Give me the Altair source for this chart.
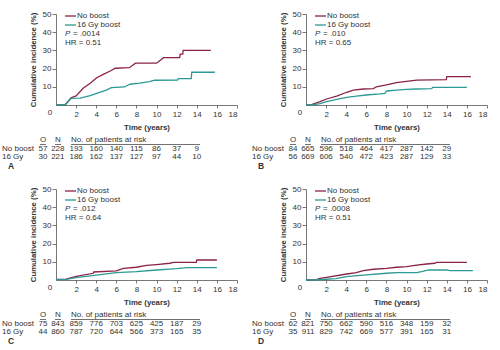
import altair as alt
import pandas as pd

FONT = "Liberation Sans"
RED = "#8B2346"
TEAL = "#2C9A94"
TXT = "#333333"
AXC = "#555555"

TIME_TICKS = [2, 4, 6, 8, 10, 12, 14, 16, 18]
Y_TICKS = [10, 20, 30, 40, 50]
RISK_TIMES = [2, 4, 6, 8, 10, 12, 14]
GROUPS = ["No boost", "16 Gy boost"]
ROW_LABELS = ["No boost", "16 Gy"]

# ---- Panel A ----
A_nb_t = [0, 0.9, 1.5, 2.0, 2.7, 3.4, 4.05, 4.7, 5.4, 5.9, 7.3, 7.9, 10.0, 10.7, 12.3, 12.35, 12.6, 12.65, 15.4]
A_nb_v = [0, 0, 4.0, 5.0, 9.2, 11.9, 15.0, 16.8, 18.7, 20.2, 20.5, 23.0, 23.0, 26.0, 26.0, 28.0, 28.0, 30.0, 30.0]
A_gy_t = [0, 0.9, 1.5, 2.4, 3.4, 4.05, 5.0, 5.5, 6.8, 7.35, 8.3, 9.3, 9.8, 12.1, 12.15, 13.45, 13.5, 15.8]
A_gy_v = [0, 0, 3.6, 3.8, 5.1, 6.4, 8.2, 9.5, 9.9, 11.4, 12.0, 12.8, 13.6, 13.7, 14.5, 14.5, 18.0, 18.0]
A_p, A_hr = "= .0014", "HR = 0.51"
A_O, A_N = [57, 30], [228, 221]
A_risk_nb = [193, 160, 140, 115, 86, 37, 9]
A_risk_gy = [186, 162, 137, 127, 97, 44, 10]

# ---- Panel B ----
B_nb_t = [0, 0.4, 1.4, 2.05, 3.05, 4.05, 4.7, 5.7, 6.7, 7.0, 8.0, 9.0, 10.0, 11.0, 13.95, 14.0, 16.4]
B_nb_v = [0, 0, 1.8, 3.3, 4.9, 7.0, 8.2, 8.8, 9.0, 10.0, 11.0, 12.3, 13.0, 13.7, 13.9, 15.6, 15.6]
B_gy_t = [0, 0.5, 1.4, 2.05, 3.05, 4.05, 5.0, 6.0, 7.35, 7.85, 8.0, 9.0, 10.0, 11.0, 12.5, 12.6, 16.0]
B_gy_v = [0, 0, 0.7, 1.8, 3.1, 4.2, 4.9, 5.5, 6.1, 6.4, 7.7, 8.2, 8.6, 8.8, 9.0, 9.7, 9.7]
B_p, B_hr = "= .010", "HR = 0.65"
B_O, B_N = [84, 56], [665, 669]
B_risk_nb = [596, 518, 464, 417, 287, 142, 29]
B_risk_gy = [606, 540, 472, 423, 287, 129, 33]

# ---- Panel C ----
C_nb_t = [0, 1.0, 2.0, 3.7, 3.75, 6.0, 6.7, 8.0, 9.0, 10.0, 11.3, 11.7, 13.95, 14.0, 16.0]
C_nb_v = [0.3, 0.5, 2.0, 3.7, 4.4, 5.0, 6.4, 7.0, 8.0, 8.5, 9.2, 9.7, 9.7, 11.0, 11.0]
C_gy_t = [0, 1.0, 2.0, 4.0, 6.0, 8.0, 10.0, 11.3, 12.0, 13.0, 16.0]
C_gy_v = [0.2, 0.3, 1.3, 2.7, 4.0, 4.6, 5.5, 6.0, 6.2, 6.8, 6.8]
C_p, C_hr = "= .012", "HR = 0.64"
C_O, C_N = [75, 44], [843, 860]
C_risk_nb = [859, 776, 703, 625, 425, 187, 29]
C_risk_gy = [787, 720, 644, 566, 373, 165, 35]

# ---- Panel D ----
D_nb_t = [0, 0.9, 1.4, 2.05, 4.05, 5.0, 5.7, 6.7, 8.0, 9.0, 10.0, 11.0, 12.0, 12.8, 13.0, 16.0]
D_nb_v = [0, 0, 0.9, 1.5, 3.3, 4.0, 5.1, 5.9, 6.4, 7.0, 7.3, 8.2, 8.8, 9.2, 9.7, 9.7]
D_gy_t = [0, 0.9, 2.0, 3.0, 4.0, 5.7, 8.0, 9.0, 11.0, 11.5, 12.2, 14.0, 14.3, 16.6]
D_gy_v = [0, 0, 0.4, 0.7, 1.8, 2.7, 3.7, 4.0, 4.0, 4.6, 5.5, 5.5, 5.1, 5.1]
D_p, D_hr = "= .0008", "HR = 0.51"
D_O, D_N = [62, 35], [821, 911]
D_risk_nb = [750, 662, 590, 516, 348, 159, 32]
D_risk_gy = [829, 742, 669, 577, 391, 165, 31]

W, H = 181, 91
FS = 8

X_ENC = alt.X("t:Q", scale=alt.Scale(domain=[0, 18], nice=False, zero=True),
              axis=alt.Axis(values=TIME_TICKS, title="Time (years)", labelOverlap=False))


def txt(s, x, y, align="left", size=FS, weight="normal", style="normal", color=TXT):
    return alt.Chart(pd.DataFrame({"s": [s]})).mark_text(
        align=align, baseline="middle", font=FONT, fontSize=size,
        fontWeight=weight, fontStyle=style, color=color
    ).encode(text="s:N", x=alt.value(x), y=alt.value(y))


def hline(x1, x2, y, color, width=1.0):
    return alt.Chart(pd.DataFrame({"a": [0]})).mark_rule(
        color=color, strokeWidth=width
    ).encode(x=alt.value(x1), x2=alt.value(x2), y=alt.value(y))


def panel(letter, nb_t, nb_v, gy_t, gy_v, p, hr, O, N, risk_nb, risk_gy):
    rows = []
    for g, ts, vs in [(GROUPS[0], nb_t, nb_v), (GROUPS[1], gy_t, gy_v)]:
        for i, (t, v) in enumerate(zip(ts, vs)):
            rows.append({"grp": g, "t": t, "v": v, "i": i})
    df = pd.DataFrame(rows)

    lines = alt.Chart(df).mark_line(strokeWidth=1.3).encode(
        x=X_ENC,
        y=alt.Y("v:Q", scale=alt.Scale(domain=[0, 50], nice=False),
                axis=alt.Axis(values=Y_TICKS, title="Cumulative incidence (%)", labelOverlap=False)),
        color=alt.Color("grp:N", scale=alt.Scale(domain=GROUPS, range=[RED, TEAL]), legend=None),
        order="i:Q",
    )

    layers = [lines]
    # legend
    layers += [hline(9, 20, 2, RED, 1.3), txt(GROUPS[0], 21, 2),
               hline(9, 20, 11, TEAL, 1.3), txt(GROUPS[1], 21, 11),
               txt("P", 9, 20, style="italic"), txt(p, 17, 20),
               txt(hr, 9, 29)]
    # corner zero
    layers.append(txt("0", -6, 99, align="center"))

    # risk table
    RY_H, RY_1, RY_2 = 126, 135, 143
    layers += [txt("O", -13, RY_H, align="center"), txt("N", 2, RY_H, align="center"),
               txt("No. of patients at risk", 15, RY_H),
               hline(-16, -10, RY_H + 4.5, TXT, 0.7), hline(-1, 5, RY_H + 4.5, TXT, 0.7),
               hline(15, 144, RY_H + 4.5, TXT, 0.7)]
    for lab, o, n, risk, ry in [(ROW_LABELS[0], O[0], N[0], risk_nb, RY_1),
                                 (ROW_LABELS[1], O[1], N[1], risk_gy, RY_2)]:
        layers += [txt(lab, -54, ry), txt(str(o), -8.5, ry, align="right"),
                   txt(str(n), 8.5, ry, align="right")]
        rdf = pd.DataFrame({"t": RISK_TIMES, "n": [str(x) for x in risk]})
        layers.append(alt.Chart(rdf).mark_text(
            align="center", baseline="middle", font=FONT, fontSize=FS, color=TXT
        ).encode(x=X_ENC, y=alt.value(ry), text="n:N"))
    layers.append(txt(letter, -48, 152, size=8.5, weight="bold"))

    return alt.layer(*layers).properties(width=W, height=H)


pA = panel("A", A_nb_t, A_nb_v, A_gy_t, A_gy_v, A_p, A_hr, A_O, A_N, A_risk_nb, A_risk_gy)
pB = panel("B", B_nb_t, B_nb_v, B_gy_t, B_gy_v, B_p, B_hr, B_O, B_N, B_risk_nb, B_risk_gy)
pC = panel("C", C_nb_t, C_nb_v, C_gy_t, C_gy_v, C_p, C_hr, C_O, C_N, C_risk_nb, C_risk_gy)
pD = panel("D", D_nb_t, D_nb_v, D_gy_t, D_gy_v, D_p, D_hr, D_O, D_N, D_risk_nb, D_risk_gy)

chart = alt.concat(pA, pB, pC, pD, columns=2, spacing={"row": 84, "column": 69},
                   bounds="flush").configure(
    font=FONT, padding={"left": 2, "top": 10, "right": 0, "bottom": 0}, background="white"
).configure_view(stroke=None).configure_axis(
    grid=False, domainColor=AXC, tickColor=AXC, labelColor=TXT, titleColor=TXT,
    labelFont=FONT, titleFont=FONT, labelFontSize=FS, titleFontSize=7.8,
    titleFontWeight="bold", domainWidth=0.8, tickWidth=0.8, labelOverlap=False
).configure_axisX(
    tickSize=3, labelPadding=2, titlePadding=5
).configure_axisY(
    tickSize=4, labelPadding=1, titlePadding=5
)

chart.save("out.html", embed_options={"renderer": "svg", "actions": False})
